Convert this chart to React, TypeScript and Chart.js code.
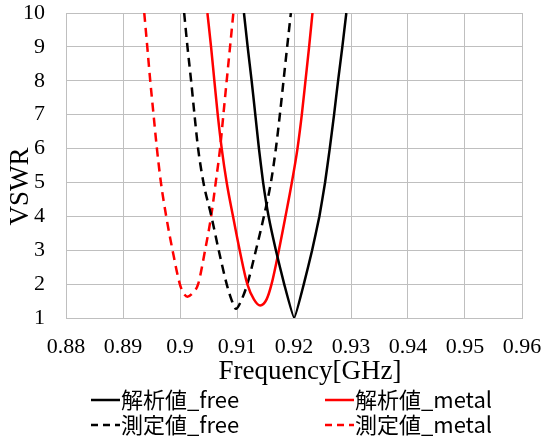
import React, { useEffect, useRef } from "react";
import { Chart, registerables } from "chart.js";

Chart.register(...registerables);

// Frequency ticks and labels
const xTickValues = [0.88, 0.89, 0.9, 0.91, 0.92, 0.93, 0.94, 0.95, 0.96];
const xTickLabels = ["0.88", "0.89", "0.9", "0.91", "0.92", "0.93", "0.94", "0.95", "0.96"];
const yTickValues = [1, 2, 3, 4, 5, 6, 7, 8, 9, 10];
const yTickLabels = ["1", "2", "3", "4", "5", "6", "7", "8", "9", "10"];

const xTitle = "Frequency[GHz]";
const yTitle = "VSWR";

// 解析値_free (black solid)
const simFreeFreq = [0.91122, 0.91187, 0.91257, 0.91321, 0.91385, 0.91458, 0.91554, 0.91682, 0.91828, 0.92003, 0.92172, 0.92318, 0.92446, 0.92545, 0.92627, 0.92703, 0.92773, 0.92848, 0.92918];
const simFreeVswr = [10, 9, 8, 7, 6, 5, 4, 3, 2, 1, 2, 3, 4, 5, 6, 7, 8, 9, 10];

// 解析値_metal (red solid)
const simMetalFreq = [0.90481, 0.90545, 0.90603, 0.90662, 0.90732, 0.90819, 0.9093, 0.91047, 0.91181, 0.91297, 0.91408, 0.91519, 0.91606, 0.91735, 0.91851, 0.91962, 0.92061, 0.92137, 0.92201, 0.92265, 0.92324];
const simMetalVswr = [10, 9, 8, 7, 6, 5, 4, 3, 2, 1.55, 1.37, 1.55, 2, 3, 4, 5, 6, 7, 8, 9, 10];

// 測定値_free (black dashed)
const measFreeFreq = [0.90073, 0.90131, 0.90195, 0.90254, 0.90318, 0.90411, 0.90551, 0.90679, 0.90819, 0.90901, 0.90983, 0.9107, 0.91181, 0.91332, 0.91472, 0.91595, 0.91682, 0.91752, 0.91816, 0.9188, 0.91945];
const measFreeVswr = [10, 9, 8, 7, 6, 5, 4, 3, 2, 1.55, 1.27, 1.5, 2, 3, 4, 5, 6, 7, 8, 9, 10];

// 測定値_metal (red dashed)
const measMetalFreq = [0.89373, 0.89426, 0.89478, 0.89536, 0.89595, 0.89665, 0.89758, 0.89869, 0.89997, 0.90055, 0.90131, 0.9023, 0.90318, 0.9044, 0.90546, 0.90627, 0.90703, 0.90761, 0.90819, 0.90878, 0.90936];
const measMetalVswr = [10, 9, 8, 7, 6, 5, 4, 3, 2, 1.75, 1.63, 1.75, 2, 3, 4, 5, 6, 7, 8, 9, 10];

const seriesNames = ["解析値_free", "解析値_metal", "測定値_free", "測定値_metal"];

const toPoints = (xs: number[], ys: number[]) => xs.map((x, i) => ({ x, y: ys[i] }));

const GRID = "#bfbfbf";
const SERIF = "'Liberation Serif', 'Times New Roman', serif";
const CJK = "'Noto Sans CJK JP', 'Noto Sans', sans-serif";

Chart.defaults.font.family = SERIF;

const zeroPad = (scale: any) => {
  scale.paddingTop = 0;
  scale.paddingBottom = 0;
  scale.paddingLeft = 0;
  scale.paddingRight = 0;
};

const overlayPlugin = {
  id: "overlay",
  afterDraw(chart: any) {
    const ctx = chart.ctx as CanvasRenderingContext2D;
    const area = chart.chartArea;
    const xs = chart.scales.x;
    const ys = chart.scales.y;
    ctx.save();
    ctx.fillStyle = "#000";

    // tick labels
    ctx.font = `22px ${SERIF}`;
    ctx.textAlign = "center";
    ctx.textBaseline = "alphabetic";
    xTickValues.forEach((v, i) => {
      ctx.fillText(xTickLabels[i], xs.getPixelForValue(v), area.bottom + 35);
    });
    ctx.textAlign = "right";
    ctx.textBaseline = "middle";
    yTickValues.forEach((v, i) => {
      ctx.fillText(yTickLabels[i], area.left - 21, ys.getPixelForValue(v));
    });

    // axis titles
    ctx.font = `27px ${SERIF}`;
    ctx.textAlign = "center";
    ctx.textBaseline = "alphabetic";
    ctx.fillText(xTitle, (area.left + area.right) / 2 + 16, area.bottom + 61);
    ctx.save();
    ctx.translate(28, (area.top + area.bottom) / 2 + 21);
    ctx.rotate(-Math.PI / 2);
    ctx.fillText(yTitle, 0, 0);
    ctx.restore();

    // legend
    const ds = chart.data.datasets;
    const items = [
      { i: 0, lx: 91, ly: 400 },
      { i: 1, lx: 325, ly: 400 },
      { i: 2, lx: 91, ly: 425 },
      { i: 3, lx: 325, ly: 425 },
    ];
    ctx.font = `22px ${CJK}`;
    ctx.textAlign = "left";
    ctx.textBaseline = "middle";
    items.forEach(({ i, lx, ly }) => {
      const d = ds[i];
      ctx.strokeStyle = d.borderColor;
      ctx.lineWidth = 2.5;
      ctx.setLineDash(d.borderDash && d.borderDash.length ? [7, 5] : []);
      ctx.beginPath();
      ctx.moveTo(lx, ly);
      ctx.lineTo(lx + 29, ly);
      ctx.stroke();
      ctx.setLineDash([]);
      ctx.fillStyle = "#000";
      ctx.fillText(d.label, lx + 30, ly);
    });
    ctx.restore();
  },
};

export default function App() {
  const ref = useRef<HTMLCanvasElement | null>(null);

  useEffect(() => {
    document.body.style.margin = "0";
    const canvas = ref.current;
    if (!canvas) return;
    const chart = new Chart(canvas, {
      type: "line",
      data: {
        datasets: [
          {
            label: seriesNames[0],
            data: toPoints(simFreeFreq, simFreeVswr),
            borderColor: "#000000",
            borderWidth: 2.5,
            pointRadius: 0,
            tension: 0.12,
          },
          {
            label: seriesNames[1],
            data: toPoints(simMetalFreq, simMetalVswr),
            borderColor: "#ff0000",
            borderWidth: 2.5,
            pointRadius: 0,
            cubicInterpolationMode: "monotone",
          },
          {
            label: seriesNames[2],
            data: toPoints(measFreeFreq, measFreeVswr),
            borderColor: "#000000",
            borderWidth: 2.5,
            borderDash: [9, 6],
            pointRadius: 0,
            cubicInterpolationMode: "monotone",
          },
          {
            label: seriesNames[3],
            data: toPoints(measMetalFreq, measMetalVswr),
            borderColor: "#ff0000",
            borderWidth: 2.5,
            borderDash: [9, 6],
            pointRadius: 0,
            cubicInterpolationMode: "monotone",
          },
        ] as any,
      },
      options: {
        responsive: false,
        animation: false,
        devicePixelRatio: 1,
        layout: { padding: { top: 13, right: 22, left: 0, bottom: 0 } },
        plugins: {
          legend: { display: false },
          tooltip: { enabled: false },
        },
        scales: {
          x: {
            type: "linear",
            min: 0.88,
            max: 0.96,
            afterFit: (scale: any) => {
              scale.height = 119;
              zeroPad(scale);
            },
            afterBuildTicks: (scale: any) => {
              scale.ticks = xTickValues.map((v) => ({ value: v }));
            },
            ticks: { display: false },
            grid: { color: GRID, lineWidth: 1, drawTicks: false },
            border: { color: GRID, width: 1 },
          },
          y: {
            type: "linear",
            min: 1,
            max: 10,
            afterFit: (scale: any) => {
              scale.width = 66;
              zeroPad(scale);
            },
            afterBuildTicks: (scale: any) => {
              scale.ticks = yTickValues.map((v) => ({ value: v }));
            },
            ticks: { display: false },
            grid: { color: GRID, lineWidth: 1, drawTicks: false },
            border: { color: GRID, width: 1 },
          },
        },
      },
      plugins: [overlayPlugin],
    });
    return () => chart.destroy();
  }, []);

  return (
    <div style={{ width: 544, height: 437 }}>
      <canvas ref={ref} width={544} height={437} style={{ display: "block" }} />
    </div>
  );
}
